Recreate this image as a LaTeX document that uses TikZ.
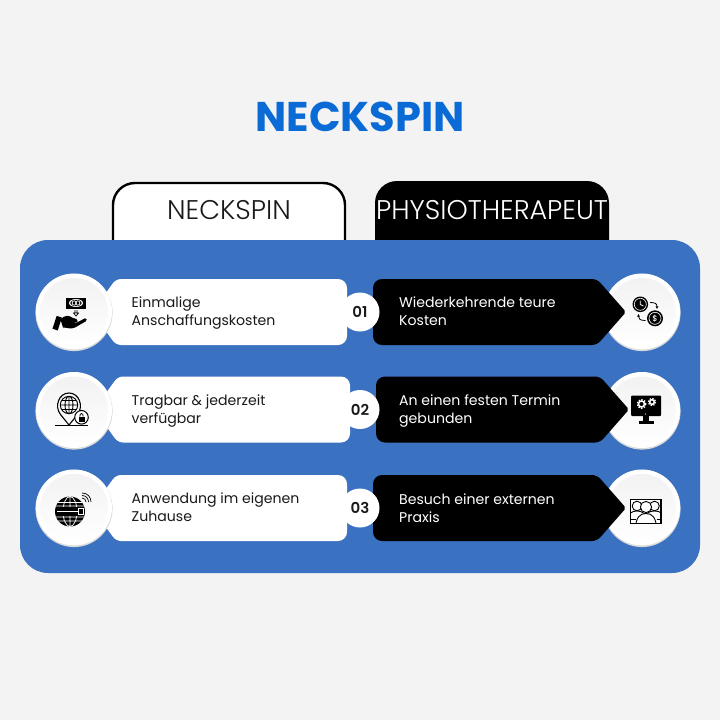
\documentclass[tikz,border=0pt]{standalone}
\usepackage{fontspec}
\usetikzlibrary{arrows.meta}
\setmainfont{Poppins}
\newfontfamily\pbold{Poppins}[UprightFont=* Bold]
\newfontfamily\psemi{Poppins}[UprightFont=* SemiBold]
\newfontfamily\pmed{Poppins}[UprightFont=* Medium]
\newfontfamily\plight{Poppins}[UprightFont=* Light]
\definecolor{bgc}{HTML}{F3F3F3}
\definecolor{panelc}{HTML}{3A71C1}
\definecolor{titlec}{HTML}{0A6AD6}
\definecolor{darkc}{HTML}{1A1A1A}
\tikzset{
  bodytext/.style={anchor=base west,inner sep=0pt,font=\fontsize{14.1}{14.1}\selectfont},
  numtext/.style={anchor=center,inner sep=0pt,text=darkc,font=\psemi\fontsize{15}{15}\selectfont},
  tabtext/.style={anchor=center,inner sep=0pt,font=\plight\fontsize{27}{27}\selectfont},
  ic/.style={black,line width=1pt},
}
\newcommand{\badge}[2]{%
  \fill[gray!30] (#1,#2+0.5) circle (38.6);
  \fill[white] (#1,#2-0.5) circle (38);
  \shade[top color=gray!10,bottom color=white] (#1,#2) circle (34);
}
% y centre, half height 33; #2 = x of left slanted corner, #3 = right edge
\newcommand{\wbar}[3]{%
  \fill[white] (200,#1-33) [rounded corners=9] -- (#3,#1-33) -- (#3,#1+33) [rounded corners=5] -- (#2,#1+33) -- (#2-24,#1) -- (#2,#1-33) -- cycle;
}
% #2 = left edge, #3 = tip x
\newcommand{\bbar}[3]{%
  \fill[black] (480,#1-33) [rounded corners=5] -- (#3-29,#1-33) [rounded corners=2] -- (#3,#1) [rounded corners=5] -- (#3-29,#1+33) [rounded corners=9] -- (#2,#1+33) -- (#2,#1-33) -- cycle;
}
\newcommand{\gearicon}[3]{%
  \draw[white,line width=1.5pt] (#1,#2) circle (#3);
  \draw[white,line width=1.3pt,dash pattern=on 1.4pt off 1.4pt] (#1,#2) circle (#3+1.3);
}
\begin{document}
\begin{tikzpicture}[x=1pt,y=-1pt]
\useasboundingbox (0,0) rectangle (720,720);
\fill[bgc] (0,0) rectangle (720,720);
\node[anchor=center,inner sep=0pt,text=titlec,font=\pbold\fontsize{41.5}{41.5}\selectfont] (title) at (360,117) {NECKSPIN};
% tabs
\draw[fill=white,draw=black,line width=2.4pt,rounded corners=22] (113,245) -- (113,183) -- (345,183) -- (345,245);
\fill[black] (375,250) [rounded corners=22] -- (375,181) -- (609,181) [sharp corners] -- (609,250) -- cycle;
\node[tabtext,text=darkc] (tabl) at (229,210) {NECKSPIN};
\node[tabtext,text=white] (tabr) at (492,210) {PHYSIOTHERAPEUT};
% panel
\fill[panelc,rounded corners=28] (20,240) rectangle (700,573);
% bars and badges: left badges lie over the white bars, black bars over the right badges
\wbar{312}{116}{347}
\wbar{409.5}{118}{350}
\wbar{508}{116}{347}
\badge{74}{312}\badge{74}{410.5}\badge{74}{508}
\badge{642}{312}\badge{642}{410.5}\badge{642}{508}
\bbar{312}{373}{626}
\bbar{409.5}{376}{629}
\bbar{508}{373}{626}
% number discs
\fill[white] (360,312) circle (19.5);
\fill[white] (360,409.5) circle (19.5);
\fill[white] (360,508) circle (19.5);
\node[numtext] (n1) at (360,311.5) {01};
\node[numtext] (n2) at (360,409.5) {02};
\node[numtext] (n3) at (360,507.5) {03};
% texts
\node[bodytext,text=darkc] (l1a) at (131.5,307) {Einmalige};
\node[bodytext,text=darkc] (l1b) at (131.5,325) {Anschaffungskosten};
\node[bodytext,text=darkc] (l2a) at (131.5,405) {Tragbar \& jederzeit};
\node[bodytext,text=darkc] (l2b) at (131.5,423) {verfügbar};
\node[bodytext,text=darkc] (l3a) at (131.5,503) {Anwendung im eigenen};
\node[bodytext,text=darkc] (l3b) at (131.5,521) {Zuhause};
\node[bodytext,text=white] (r1a) at (399,307) {Wiederkehrende teure};
\node[bodytext,text=white] (r1b) at (399,325) {Kosten};
\node[bodytext,text=white] (r2a) at (399,405) {An einen festen Termin};
\node[bodytext,text=white] (r2b) at (399,423) {gebunden};
\node[bodytext,text=white] (r3a) at (399,504) {Besuch einer externen};
\node[bodytext,text=white] (r3b) at (399,522) {Praxis};
% icon 1: banknote and hand
\fill[black] (66,297.5) rectangle (86,308.5);
\fill[white] (76,303) ellipse (7 and 4);
\fill[black] (76,303) ellipse (5.8 and 3.2);
\draw[white,line width=0.7pt] (74.3,303) circle (2.2) (77.7,303) circle (2.2);
\draw[black,line width=0.7pt] (75,310) -- (75,313) (77,310) -- (77,313) (73.5,313) -- (76,316) -- (78.5,313) -- cycle;
\fill[black,rotate around={-18:(57.5,323)}] (54.5,316.5) rectangle (60,330);
\fill[black] (60.5,319.5) .. controls (65,314.5) and (69,315.5) .. (72,317.5) -- (76.5,319) .. controls (78.5,320) and (78,322.5) .. (75,322.3) -- (70,321.3) -- (76,323) -- (85,318.3) .. controls (87.5,318.5) and (87,320.5) .. (85.5,321.5) -- (75,327.5) .. controls (71,329.5) and (67,327.5) .. (63,327.5) -- cycle;
% icon 2: pin with globe and lock
\draw[ic,line width=1.1pt] (69,425) -- (60.5,414.5) .. controls (54,406) and (59,393) .. (69,393) .. controls (79,393) and (84,406) .. (77.5,414.5) -- cycle;
\draw[ic,line width=0.9pt] (69,405) circle (8.7) (69,405) ellipse (4 and 8.7) (60.3,405) -- (77.7,405) (61.5,400.5) -- (76.5,400.5) (61.5,409.5) -- (76.5,409.5) (69,396.3) -- (69,413.7);
\draw[ic,line width=1.1pt] (55,425.8) -- (88,425.8);
\draw[ic,fill=white,line width=1pt] (81.5,417.3) circle (6.8);
\fill[black] (78.5,416.5) rectangle (84.5,421.5);
\draw[black,line width=0.8pt] (79.8,416.5) .. controls (79.8,412.5) and (83.2,412.5) .. (83.2,416.5);
% icon 3: black globe with wifi
\fill[black] (70,511.5) circle (15);
\draw[white,line width=0.7pt] (70,511.5) ellipse (7 and 15) (70,496.5) -- (70,526.5) (58,502.5) -- (82,502.5) (56,506) -- (84,506) (56,517) -- (84,517) (58,521) -- (82,521);
\fill[black] (55.5,507) rectangle (84,516);
\fill[white] (57,510.8) rectangle (78,512.2);
\draw[white,line width=0.6pt] (78.5,508.5) rectangle (83,514.5);
\draw[ic,line width=0.7pt] (82,498) .. controls (84.5,498) and (86,500) .. (86,502);
\draw[ic,line width=0.7pt] (82,495.5) .. controls (86,495.5) and (88.5,498.5) .. (88.5,502);
\draw[ic,line width=0.7pt] (82,493) .. controls (87.5,493) and (91,497) .. (91,502);
% icon 4: clock and dollar
\fill[black] (640.3,304.3) circle (7.8);
\draw[white,line width=0.6pt] (640.3,304.3) circle (6);
\draw[white,line width=0.8pt] (640.3,300.5) -- (640.3,304.5) -- (643.5,306);
\fill[black] (655,318.3) circle (8);
\draw[white,line width=0.6pt] (655,318.3) circle (6);
\node[anchor=center,inner sep=0pt,text=white,font=\pmed\fontsize{8}{8}\selectfont] (dollar) at (655,318.5) {\$};
\draw[black,line width=0.8pt,-{Latex[length=2.6pt,width=3pt]}] (650,302.5) .. controls (655,302.5) and (657,303.5) .. (657,309);
\draw[black,line width=0.8pt,-{Latex[length=2.6pt,width=3pt]}] (645.5,320.5) .. controls (640,320.5) and (638.5,319) .. (638.5,314);
% icon 5: monitor with gears
\fill[black,rounded corners=1] (631,395.5) rectangle (661,416);
\fill[black] (643,416) rectangle (649,420.5);
\fill[black] (638.5,421) rectangle (653.5,423.5);
\fill[white] (645.5,414) circle (0.7);
\gearicon{641.5}{404}{3}
\gearicon{652}{402}{2.3}
% icon 6: room with people
\begin{scope}
\clip (630.7,499.8) rectangle (661,523.5);
\fill[white] (630.7,499.8) rectangle (661,523.5);
\draw[black,line width=0.9pt] (637,506) circle (4.8) (654.5,506) circle (4.8);
\draw[black,fill=white,line width=0.9pt] (627,523.5) .. controls (627,513) and (632,511) .. (637,511) .. controls (642,511) and (647,513) .. (647,523.5);
\draw[black,fill=white,line width=0.9pt] (644,523.5) .. controls (644,513) and (649,511) .. (654.5,511) .. controls (660,511) and (665,513) .. (665,523.5);
\draw[black,fill=white,line width=0.9pt] (646,507) circle (5.6);
\draw[black,fill=white,line width=0.9pt] (635.5,530) .. controls (635.5,517) and (640,513.5) .. (646,513.5) .. controls (652,513.5) and (656.5,517) .. (656.5,530);
\end{scope}
\draw[black,line width=1.1pt] (630.7,499.8) rectangle (661,523.5);
\draw[black,line width=0.8pt] (630.7,519.5) -- (635.5,519.5) (656.5,519.5) -- (661,519.5);
\end{tikzpicture}
\end{document}
